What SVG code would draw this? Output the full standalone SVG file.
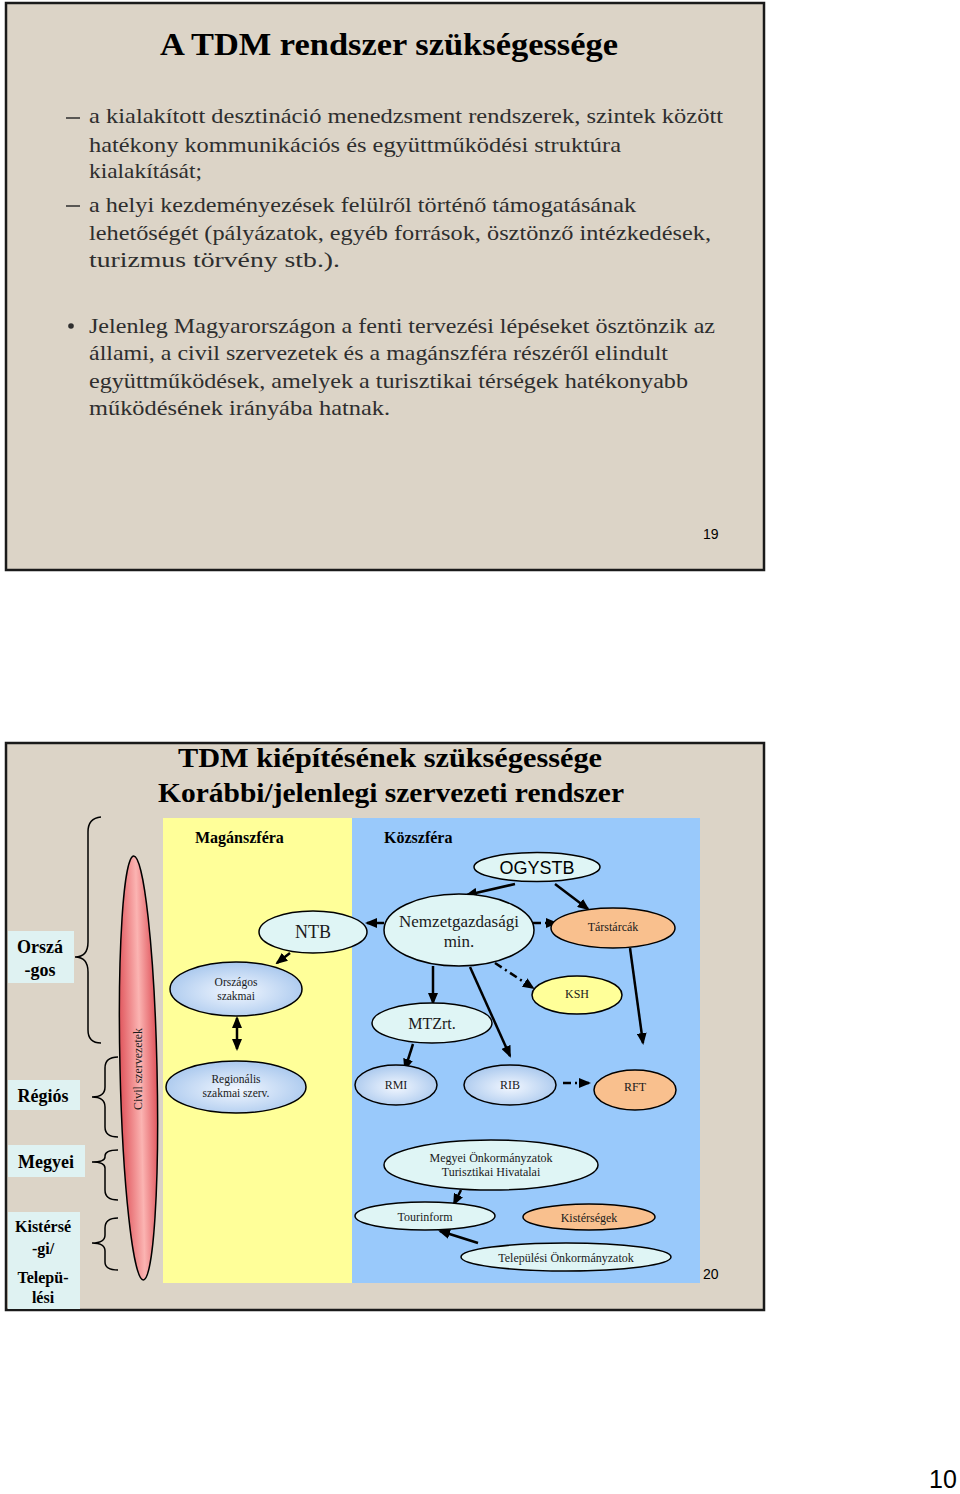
<svg xmlns="http://www.w3.org/2000/svg" width="960" height="1494" viewBox="0 0 960 1494">
<style>
.slide{fill:#dcd4c7;stroke:#1a1a1a;stroke-width:2.5}
.title{font-family:"Liberation Serif",serif;font-weight:bold;fill:#000}
.body{font-family:"Liberation Serif",serif;font-size:22px;fill:#2e2e2e}
.pg{font-family:"Liberation Sans",Arial,sans-serif;fill:#000}
.lbl{fill:#dff2f2}
.lt{font-family:"Liberation Serif",serif;font-weight:bold;fill:#000;text-anchor:middle}
.brace{fill:none;stroke:#000;stroke-width:1.5}
.n{stroke:#000;stroke-width:1.5}
.cyan{fill:#dff5f5}
.peach{fill:#f9c08e}
.yel{fill:#ffff99}
.blue{fill:url(#gb)}
.t{font-family:"Liberation Serif",serif;fill:#1a1a1a;text-anchor:middle}
.c{fill:none;stroke:#000;stroke-width:2.5;marker-end:url(#ah)}
.d{fill:none;stroke:#000;stroke-width:2.5;stroke-dasharray:8 4 2 4;marker-end:url(#ah)}
</style>
<defs>
<marker id="ah" markerUnits="userSpaceOnUse" markerWidth="12" markerHeight="10" refX="10" refY="5" orient="auto">
<path d="M0,0 L12,5 L0,10 Z" fill="#000"/>
</marker>
<marker id="ahs" markerUnits="userSpaceOnUse" markerWidth="12" markerHeight="10" refX="2" refY="5" orient="auto">
<path d="M12,0 L0,5 L12,10 Z" fill="#000"/>
</marker>
<radialGradient id="gb" cx="50%" cy="55%" r="60%">
<stop offset="0" stop-color="#f2f7ff"/>
<stop offset="1" stop-color="#a3c4ec"/>
</radialGradient>
<linearGradient id="gr" x1="0" y1="0" x2="1" y2="0">
<stop offset="0" stop-color="#e0555c"/>
<stop offset="0.55" stop-color="#fbb4b2"/>
<stop offset="1" stop-color="#e0555c"/>
</linearGradient>
</defs>
<rect x="0" y="0" width="960" height="1494" fill="#fff"/>

<!-- Slide 19 -->
<g id="slide19">
<rect class="slide" x="6" y="3" width="758" height="567"/>
<text class="title" x="389" y="55" font-size="31" text-anchor="middle" textLength="458" lengthAdjust="spacingAndGlyphs">A TDM rendszer szükségessége</text>
<line x1="66" y1="118" x2="80" y2="118" stroke="#2e2e2e" stroke-width="1.5"/>
<line x1="66" y1="206" x2="80" y2="206" stroke="#2e2e2e" stroke-width="1.5"/>
<circle cx="71" cy="326" r="2.8" fill="#2e2e2e"/>
<text class="body" x="89" y="123" textLength="634" lengthAdjust="spacingAndGlyphs">a kialakított desztináció menedzsment rendszerek, szintek között</text>
<text class="body" x="89" y="152" textLength="532" lengthAdjust="spacingAndGlyphs">hatékony kommunikációs és együttműködési struktúra</text>
<text class="body" x="89" y="178" textLength="113" lengthAdjust="spacingAndGlyphs">kialakítását;</text>
<text class="body" x="89" y="212" textLength="547" lengthAdjust="spacingAndGlyphs">a helyi kezdeményezések felülről történő támogatásának</text>
<text class="body" x="89" y="240" textLength="622" lengthAdjust="spacingAndGlyphs">lehetőségét (pályázatok, egyéb források, ösztönző intézkedések,</text>
<text class="body" x="89" y="267" textLength="251" lengthAdjust="spacingAndGlyphs">turizmus törvény stb.).</text>
<text class="body" x="89" y="333" textLength="626" lengthAdjust="spacingAndGlyphs">Jelenleg Magyarországon a fenti tervezési lépéseket ösztönzik az</text>
<text class="body" x="89" y="360" textLength="579" lengthAdjust="spacingAndGlyphs">állami, a civil szervezetek és a magánszféra részéről elindult</text>
<text class="body" x="89" y="388" textLength="599" lengthAdjust="spacingAndGlyphs">együttműködések, amelyek a turisztikai térségek hatékonyabb</text>
<text class="body" x="89" y="415" textLength="301" lengthAdjust="spacingAndGlyphs">működésének irányába hatnak.</text>
<text class="pg" x="703" y="539" font-size="14">19</text>
</g>

<!-- Slide 20 -->
<g id="slide20">
<rect class="slide" x="6" y="743" width="758" height="567"/>
<text class="title" x="390" y="767" font-size="28" text-anchor="middle" textLength="424" lengthAdjust="spacingAndGlyphs">TDM kiépítésének szükségessége</text>
<text class="title" x="391" y="802" font-size="28" text-anchor="middle" textLength="466" lengthAdjust="spacingAndGlyphs">Korábbi/jelenlegi szervezeti rendszer</text>
<rect x="163" y="818" width="190" height="465" fill="#ffff99"/>
<rect x="352" y="818" width="348" height="465" fill="#99c9fb"/>
<text class="title" x="195" y="843" font-size="16">Magánszféra</text>
<text class="title" x="384" y="843" font-size="16">Közszféra</text>
<text class="pg" x="703" y="1279" font-size="14">20</text>
</g>

<g id="levels">
<rect class="lbl" x="8" y="931" width="66" height="52"/>
<text class="lt" x="40" y="953" font-size="18">Orszá</text>
<text class="lt" x="40" y="976" font-size="18">-gos</text>
<rect class="lbl" x="8" y="1080" width="72" height="30"/>
<text class="lt" x="43" y="1102" font-size="18">Régiós</text>
<rect class="lbl" x="8" y="1145" width="77" height="32"/>
<text class="lt" x="46" y="1168" font-size="18">Megyei</text>
<rect class="lbl" x="8" y="1212" width="72" height="97"/>
<text class="lt" x="43" y="1232" font-size="16">Kistérsé</text>
<text class="lt" x="43" y="1254" font-size="16">-gi/</text>
<text class="lt" x="43" y="1283" font-size="16">Telepü-</text>
<text class="lt" x="43" y="1303" font-size="16">lési</text>
<path class="brace" d="M101,817 Q88,818 88,832 L88,942 Q88,957 75,957 Q88,957 88,972 L88,1030 Q88,1043 101,1043"/>
<path class="brace" d="M118,1057 Q105,1057 105,1068 L105,1087 Q105,1097 92,1097 Q105,1097 105,1107 L105,1127 Q105,1137 118,1137"/>
<path class="brace" d="M118,1150 Q105,1150 105,1156 L105,1157 Q105,1162 92,1162 Q105,1162 105,1168 L105,1190 Q105,1200 118,1200"/>
<path class="brace" d="M118,1218 Q105,1218 105,1228 L105,1235 Q105,1243 92,1243 Q105,1243 105,1251 L105,1262 Q105,1270 118,1270"/>
</g>

<g id="civil">
<ellipse cx="138.5" cy="1068" rx="18.5" ry="212" transform="rotate(-1.3 138.5 1068)" fill="url(#gr)" stroke="#000" stroke-width="1.5"/>
<text class="t" x="0" y="0" font-size="12.5" transform="translate(142,1069) rotate(-90)" textLength="82" lengthAdjust="spacingAndGlyphs">Civil szervezetek</text>
</g>

<g id="connectors">
<line class="c" x1="515" y1="884" x2="467" y2="895"/>
<line class="c" x1="555" y1="884" x2="588" y2="909"/>
<line class="c" x1="384" y1="923" x2="367" y2="923"/>
<line class="d" x1="533" y1="923" x2="556" y2="923"/>
<line class="d" x1="495" y1="963" x2="533" y2="988"/>
<line class="c" x1="433" y1="966" x2="433" y2="1003"/>
<line class="c" x1="470" y1="967" x2="510" y2="1056"/>
<line class="c" x1="630" y1="948" x2="643" y2="1043"/>
<line class="c" x1="413" y1="1044" x2="405" y2="1069"/>
<line class="d" x1="563" y1="1083" x2="589" y2="1083"/>
<line class="c" x1="290" y1="953" x2="277" y2="963"/>
<line class="c" x1="237" y1="1018" x2="237" y2="1049" marker-start="url(#ahs)"/>
<line class="c" x1="461" y1="1190" x2="454" y2="1204"/>
<line class="c" x1="478" y1="1243" x2="440" y2="1231"/>
</g>

<g id="n-ogystb"><ellipse class="n cyan" cx="537" cy="867" rx="63" ry="14.5"/><text class="pg" x="537" y="874" font-size="18" text-anchor="middle" fill="#1a1a1a">OGYSTB</text></g>
<g id="n-nemzet"><ellipse class="n cyan" cx="459" cy="930" rx="75" ry="36"/><text class="t" x="459" y="927" font-size="17">Nemzetgazdasági</text><text class="t" x="459" y="947" font-size="17">min.</text></g>
<g id="n-ntb"><ellipse class="n cyan" cx="313" cy="932" rx="54" ry="21"/><text class="t" x="313" y="938" font-size="18">NTB</text></g>
<g id="n-tarstarcak"><ellipse class="n peach" cx="613" cy="928" rx="62" ry="20"/><text class="t" x="613" y="931" font-size="12">Társtárcák</text></g>
<g id="n-ksh"><ellipse class="n yel" cx="577" cy="995" rx="45" ry="19"/><text class="t" x="577" y="998" font-size="12">KSH</text></g>
<g id="n-orszagos"><ellipse class="n blue" cx="236" cy="989" rx="66" ry="27"/><text class="t" x="236" y="986" font-size="11.5">Országos</text><text class="t" x="236" y="1000" font-size="11.5">szakmai</text></g>
<g id="n-mtzrt"><ellipse class="n cyan" cx="432" cy="1023" rx="60" ry="20"/><text class="t" x="432" y="1029" font-size="16">MTZrt.</text></g>
<g id="n-regionalis"><ellipse class="n blue" cx="236" cy="1087" rx="70" ry="26"/><text class="t" x="236" y="1083" font-size="11.5">Regionális</text><text class="t" x="236" y="1097" font-size="11.5">szakmai szerv.</text></g>
<g id="n-rmi"><ellipse class="n blue" cx="396" cy="1085" rx="41" ry="20"/><text class="t" x="396" y="1089" font-size="12">RMI</text></g>
<g id="n-rib"><ellipse class="n blue" cx="510" cy="1085" rx="46" ry="20"/><text class="t" x="510" y="1089" font-size="12">RIB</text></g>
<g id="n-rft"><ellipse class="n peach" cx="635" cy="1090" rx="41" ry="20"/><text class="t" x="635" y="1091" font-size="12">RFT</text></g>
<g id="n-megyei"><ellipse class="n cyan" cx="491" cy="1165" rx="107" ry="25"/><text class="t" x="491" y="1162" font-size="12">Megyei Önkormányzatok</text><text class="t" x="491" y="1176" font-size="12">Turisztikai Hivatalai</text></g>
<g id="n-tourinform"><ellipse class="n cyan" cx="425" cy="1216" rx="70" ry="14"/><text class="t" x="425" y="1221" font-size="12">Tourinform</text></g>
<g id="n-kistersegek"><ellipse class="n peach" cx="589" cy="1217" rx="66" ry="13"/><text class="t" x="589" y="1222" font-size="12">Kistérségek</text></g>
<g id="n-telepulesi"><ellipse class="n cyan" cx="566" cy="1257" rx="105" ry="14"/><text class="t" x="566" y="1262" font-size="12">Települési Önkormányzatok</text></g>

<text class="pg" x="929" y="1488" font-size="25">10</text>
</svg>
